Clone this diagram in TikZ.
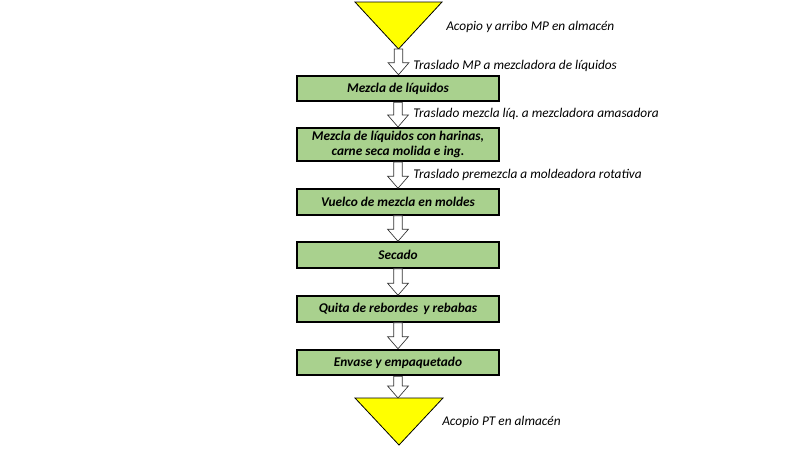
\documentclass[tikz,border=0pt]{standalone}
\usepackage{fontspec}
\setmainfont{Carlito}
\usepackage{xcolor}
\usetikzlibrary{calc}
\definecolor{verdecaja}{HTML}{A9D18E}
\definecolor{amarillo}{HTML}{FFFF00}
\tikzset{
  caja/.style={draw=black, line width=1.6pt, fill=verdecaja, minimum width=152pt,
    minimum height=19pt, inner sep=1pt, align=center, font=\fontsize{10}{11.5}\selectfont\bfseries\itshape},
  etiqueta/.style={anchor=west, inner sep=0pt, font=\fontsize{10}{12}\selectfont\itshape},
  almacen/.style={draw=black, line width=0.6pt, fill=amarillo},
  flecha/.style={draw=black!80, line width=0.5pt, fill=white}
}
\newcommand{\flechabloque}[2]{%
  \path[flecha] let \p1=(#1), \p2=(#2) in
    (\x1-3.2pt,\y1) -- (\x1-3.2pt,\y2+9pt) -- (\x1-7.8pt,\y2+9pt) -- (\x1,\y2)
    -- (\x1+7.8pt,\y2+9pt) -- (\x1+3.2pt,\y2+9pt) -- (\x1+3.2pt,\y1) -- cycle;}
\begin{document}
\begin{tikzpicture}[x=0.75pt, y=-0.75pt]
\useasboundingbox (0,0) rectangle (800,450);
\draw [almacen] (355,2) -- (442,2) -- (398.5,49) -- cycle;
\coordinate (mp) at (398.5,49);
\node [etiqueta] (acopiomp) at (446,27) {Acopio y arribo MP en almacén};
\node [caja] (liq) at (398,88.5) {Mezcla de líquidos};
\node [caja, minimum height=24.75pt] (harinas) at (398,144.5) {Mezcla de líquidos con harinas,\\carne seca molida e ing.};
\node [caja] (vuelco) at (398,202) {Vuelco de mezcla en moldes};
\node [caja] (secado) at (398,255) {Secado};
\node [caja] (quita) at (398,309) {Quita de rebordes\, y rebabas};
\node [caja] (envase) at (398,362.5) {Envase y empaquetado};
\draw [almacen] (355,398) -- (443,398) -- (399,445) -- cycle;
\coordinate (pt) at (398,398);
\node [etiqueta] (acopiopt) at (442,422) {Acopio PT en almacén};
\flechabloque{mp}{liq.north}
\flechabloque{liq.south}{harinas.north}
\flechabloque{harinas.south}{vuelco.north}
\flechabloque{vuelco.south}{secado.north}
\flechabloque{secado.south}{quita.north}
\flechabloque{quita.south}{envase.north}
\flechabloque{envase.south}{pt}
\node [etiqueta] (traslado1) at (413,66) {Traslado MP a mezcladora de líquidos};
\node [etiqueta] (traslado2) at (413,114) {Traslado mezcla líq.\ a mezcladora amasadora};
\node [etiqueta] (traslado3) at (413,175) {Traslado premezcla a moldeadora rotativa};
\end{tikzpicture}
\end{document}
